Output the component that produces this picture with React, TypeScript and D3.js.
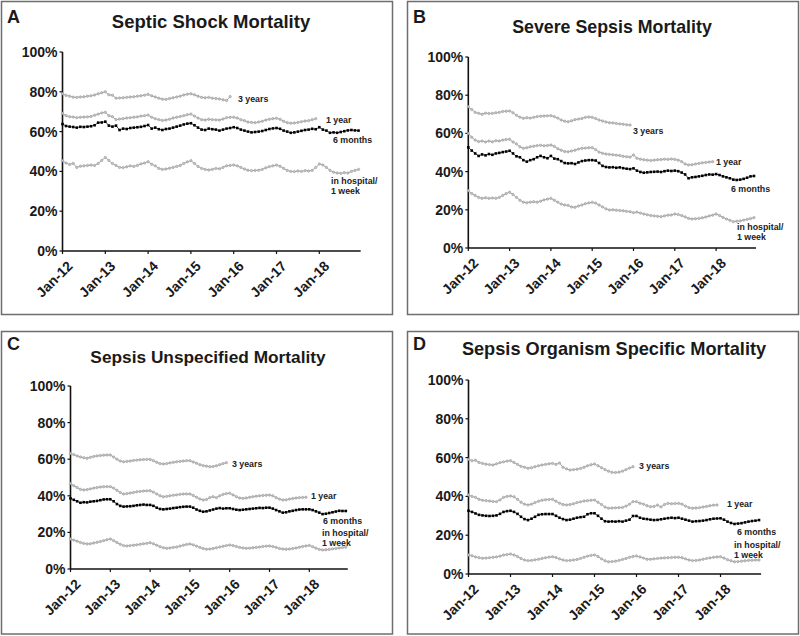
import React from "react";
import * as d3 from "d3";

// ---------- DATA (monthly, Jan-12 onward, % mortality) ----------
const xTickLabels = ["Jan-12", "Jan-13", "Jan-14", "Jan-15", "Jan-16", "Jan-17", "Jan-18"];
const yTickValues = [0, 20, 40, 60, 80, 100];
const seriesNames = ["3 years", "1 year", "6 months", "in hospital/\n1 week"];

// A: Septic Shock
const shock3y = [
  79.0, 78.2, 77.8, 77.3, 77.2, 77.4, 77.5, 77.8, 78.0, 78.4, 79.0, 79.5,
  80.0, 78.5, 78.3, 76.8, 76.9, 77.0, 77.2, 77.4, 77.5, 77.8, 78.0, 78.3,
  78.7, 78.0, 77.4, 76.8, 76.3, 76.2, 76.6, 77.0, 77.4, 77.8, 78.4, 78.8,
  79.0, 78.5, 77.8, 77.2, 77.0, 77.2, 76.8, 76.6, 76.4, 76.0, 75.6, 77.6,
];
const shock1y = [
  69.2, 68.0, 67.5, 67.3, 67.0, 67.2, 67.3, 67.4, 67.6, 68.2, 68.8, 69.4,
  69.7, 68.0, 67.5, 66.0, 66.3, 66.5, 66.8, 67.0, 67.2, 67.4, 67.8, 68.0,
  68.3, 67.2, 66.5, 66.0, 65.6, 65.8, 66.2, 66.8, 67.2, 67.6, 68.0, 68.5,
  68.8, 67.8, 66.8, 66.0, 65.8, 66.2, 66.0, 65.9, 65.8, 66.3, 67.0, 67.2,
  67.2, 66.8, 66.0, 65.5, 64.8, 64.6, 64.5, 64.8, 65.2, 65.8, 66.2, 66.5,
  66.7, 66.2, 65.2, 64.5, 64.2, 64.3, 64.6, 65.0, 65.3, 65.5, 66.0, 66.5,
];
const shock6m = [
  63.8, 62.8, 62.5, 62.3, 62.0, 62.4, 62.3, 62.5, 62.7, 63.2, 64.5, 64.6,
  65.0, 63.0, 62.5, 63.0, 60.8, 61.5, 61.3, 61.8, 62.0, 62.2, 62.4, 62.8,
  63.3, 61.5, 62.0, 61.2, 60.8, 61.3, 61.5, 62.0, 62.5, 63.0, 63.6, 64.0,
  64.2, 63.2, 62.0, 61.0, 60.8, 61.5, 61.2, 61.0, 60.5, 61.0, 61.5, 61.8,
  62.2, 61.8, 61.0, 60.5, 60.0, 59.6, 59.8, 60.0, 60.3, 60.8, 61.3, 61.6,
  61.8, 61.4, 60.5, 60.0, 59.4, 59.6, 60.0, 60.4, 60.8, 61.0, 61.4, 61.2,
  62.2, 61.0, 60.5, 59.4, 59.6, 59.4, 59.8, 60.2, 60.6, 60.8, 60.6, 60.5,
];
const shockHosp = [
  45.4, 44.2, 43.5, 44.0, 42.0, 42.6, 42.8, 43.0, 43.2, 43.0, 44.0, 45.5,
  47.0, 45.5, 44.0, 43.0, 42.0, 41.9, 42.3, 42.8, 42.5, 43.0, 43.8, 44.2,
  44.9, 43.6, 42.8, 41.5, 41.0, 41.2, 41.6, 42.0, 42.5, 43.0, 44.0, 44.8,
  45.4, 44.0, 42.5, 41.5, 41.0, 40.7, 41.0, 41.5, 41.3, 42.0, 42.8, 43.0,
  43.2, 42.8, 42.0, 41.2, 40.6, 40.4, 40.5, 40.6, 41.0, 41.8, 42.4, 42.8,
  43.2, 42.6, 41.5, 40.5, 40.0, 39.9, 40.2, 40.0, 40.4, 40.2, 40.5, 42.0,
  43.7, 43.2, 42.0, 40.5, 39.6, 39.2, 39.0, 39.4, 39.2, 40.0, 40.5, 41.0,
];

// B: Severe Sepsis
const severe3y = [
  74.0, 72.5, 71.0, 70.5, 70.0, 70.6, 70.4, 70.5, 70.8, 71.0, 71.5, 71.6,
  71.7, 70.8, 69.5, 68.5, 67.9, 68.2, 68.0, 68.4, 68.8, 69.0, 69.1, 69.2,
  69.3, 68.8, 68.0, 67.0, 66.4, 66.1, 66.6, 67.2, 67.5, 67.8, 68.4, 68.6,
  68.4, 67.8, 67.0, 66.5, 66.0, 65.6, 65.5, 65.2, 65.0, 64.8, 64.5, 64.4,
];
const severe1y = [
  60.0, 58.0, 56.5, 55.7, 56.0, 55.5, 56.0, 55.6, 56.2, 56.0, 56.5, 56.8,
  56.9, 55.5, 54.5, 53.0, 52.2, 52.5, 53.0, 53.3, 53.6, 53.8, 53.5, 53.7,
  53.9, 53.2, 52.0, 51.2, 50.5, 50.4, 50.8, 51.2, 51.8, 52.2, 52.3, 52.5,
  52.5, 51.5, 50.2, 49.6, 49.2, 49.0, 48.8, 48.6, 48.4, 48.0, 47.8, 47.6,
  48.7, 47.0, 46.5, 46.2, 46.0, 45.8, 46.0, 46.2, 46.3, 46.5, 46.4, 46.6,
  46.4, 46.0, 45.2, 44.0, 43.5, 43.6, 44.0, 44.3, 44.6, 44.8, 45.0, 45.2,
];
const severe6m = [
  52.7, 51.0, 49.5, 48.2, 49.0, 48.5, 49.2, 48.8, 49.5, 49.8, 50.2, 50.5,
  50.9, 49.5, 48.0, 47.5, 46.0, 45.2, 46.0, 46.5, 47.5, 48.2, 47.5, 47.0,
  48.2, 46.8, 46.5, 45.5, 44.5, 44.3, 44.4, 44.0, 44.8, 45.5, 45.8, 46.0,
  46.0, 45.8, 44.5, 43.0, 42.4, 42.2, 42.3, 42.0, 42.2, 41.8, 41.5, 41.3,
  41.7, 40.5, 39.8, 39.4, 39.6, 39.8, 39.9, 40.0, 39.8, 40.2, 40.5, 40.3,
  40.5, 40.2, 39.5, 38.5, 36.5, 37.0, 37.2, 37.5, 37.8, 38.2, 38.5, 38.4,
  38.7, 38.2, 37.5, 37.0, 36.5, 35.8, 35.6, 35.8, 36.2, 36.8, 37.5, 37.7,
];
const severeHosp = [
  30.0, 28.5, 27.5, 26.5, 26.0, 26.3, 26.0, 26.2, 26.0, 26.5, 27.5, 28.5,
  29.2, 28.0, 26.5, 25.0, 24.0, 23.7, 24.0, 24.2, 24.0, 24.5, 25.2, 25.6,
  26.0, 25.0, 24.0, 23.0, 22.5, 22.3, 21.5, 21.3, 22.0, 22.5, 23.2, 23.6,
  23.9, 23.5, 22.5, 21.5, 20.5, 19.9, 20.0, 19.8, 19.6, 19.5, 19.2, 19.0,
  18.5, 18.8, 18.3, 17.8, 17.4, 17.0, 16.8, 16.6, 16.4, 16.8, 17.2, 17.3,
  17.8, 17.5, 17.0, 16.3, 15.5, 15.2, 15.3, 15.5, 15.8, 16.2, 16.8, 17.2,
  17.8, 17.0, 16.0, 15.2, 14.5, 13.8, 14.0, 14.2, 14.6, 15.0, 15.4, 15.9,
];

// C: Sepsis Unspecified
const unspec3y = [
  63.2, 62.5, 61.8, 61.2, 60.8, 60.5, 61.0, 61.5, 61.8, 62.0, 62.2, 62.3,
  62.3, 61.2, 60.0, 59.0, 58.6, 58.8, 59.0, 59.3, 59.5, 59.7, 59.8, 59.9,
  59.9, 59.2, 58.3, 57.6, 57.4, 57.6, 58.0, 58.3, 58.6, 58.8, 59.0, 59.2,
  59.2, 58.5, 57.8, 57.0, 56.5, 56.2, 55.9, 56.0, 56.4, 57.0, 57.6, 58.1,
];
const unspec1y = [
  46.8, 45.5, 44.5, 43.5, 43.2, 43.4, 43.8, 44.2, 44.5, 44.8, 45.0, 45.0,
  45.0, 44.2, 43.0, 41.8, 41.0, 41.2, 41.5, 41.8, 42.2, 42.4, 42.6, 42.7,
  42.8, 42.0, 41.0, 40.0, 39.5, 39.7, 40.0, 40.3, 40.5, 40.8, 41.0, 41.0,
  41.0, 40.2, 39.2, 38.3, 37.7, 38.0, 39.0, 39.5, 39.0, 40.0, 40.8, 41.2,
  41.4, 40.5, 39.5, 38.8, 38.6, 38.8, 39.2, 39.5, 39.8, 40.0, 40.2, 40.3,
  40.4, 40.0, 39.0, 38.2, 37.7, 37.8, 38.2, 38.5, 38.8, 39.0, 39.1, 39.2,
];
const unspec6m = [
  38.6, 37.8, 37.0, 36.2, 36.5, 36.4, 36.8, 37.0, 37.2, 37.6, 38.0, 38.1,
  38.1, 37.0, 35.5, 34.5, 34.1, 34.2, 34.3, 34.5, 34.8, 35.0, 35.2, 35.0,
  35.0, 34.5, 33.5, 32.8, 32.6, 32.8, 33.0, 33.3, 33.5, 33.8, 34.0, 34.1,
  34.1, 33.5, 32.5, 31.8, 31.3, 31.5, 32.0, 32.5, 33.0, 33.3, 33.0, 33.2,
  33.2, 32.8, 32.4, 32.2, 32.4, 32.6, 32.8, 33.0, 33.2, 33.4, 33.3, 33.5,
  33.5, 33.0, 32.2, 31.5, 30.8, 31.0, 31.5, 31.8, 32.2, 32.5, 32.6, 32.6,
  32.6, 32.2, 31.5, 30.8, 30.0, 30.2, 30.6, 31.0, 31.4, 31.8, 31.7, 31.7,
];
const unspecHosp = [
  16.4, 15.8, 15.2, 14.5, 14.0, 13.7, 13.8, 14.2, 14.6, 15.0, 15.5, 16.0,
  16.4, 15.5, 14.5, 13.5, 12.8, 12.6, 12.8, 13.0, 13.2, 13.5, 13.8, 14.0,
  14.4, 13.8, 13.0, 12.2, 11.6, 11.3, 11.5, 11.8, 12.0, 12.5, 13.0, 13.4,
  13.7, 13.2, 12.5, 11.8, 11.2, 10.8, 10.9, 11.2, 11.6, 12.0, 12.4, 12.8,
  13.1, 12.8, 12.3, 11.8, 11.5, 11.3, 11.4, 11.6, 11.8, 12.0, 12.3, 12.5,
  12.6, 12.3, 11.8, 11.2, 10.9, 10.8, 10.9, 11.2, 11.5, 11.9, 12.3, 12.6,
  12.9, 12.2, 11.4, 10.7, 10.4, 10.5, 10.7, 11.0, 11.2, 11.5, 11.7, 11.9,
];

// D: Sepsis Organism Specific
const organism3y = [
  59.1, 58.4, 58.6, 57.5, 57.0, 56.6, 56.4, 56.2, 56.8, 57.4, 57.8, 58.2,
  58.4, 57.5, 56.5, 55.5, 55.0, 54.5, 54.8, 55.3, 55.8, 56.2, 56.5, 56.8,
  57.0, 56.5, 57.2, 55.0, 54.2, 53.6, 53.8, 54.0, 54.4, 55.0, 55.8, 56.3,
  56.7, 55.8, 54.8, 53.8, 53.0, 52.4, 52.3, 52.5, 53.0, 53.8, 54.6, 55.3,
];
const organism1y = [
  40.7, 40.0, 39.5, 38.5, 38.0, 37.8, 37.6, 37.4, 37.3, 38.2, 39.5, 40.0,
  40.2, 39.8, 38.5, 37.0, 36.0, 35.6, 36.0, 36.8, 37.5, 38.0, 38.3, 38.4,
  38.5, 37.5, 36.5, 35.8, 35.6, 35.8, 36.2, 36.8, 37.2, 37.6, 37.8, 38.0,
  38.1, 37.0, 35.8, 34.5, 33.9, 34.0, 34.1, 34.2, 34.3, 35.0, 36.0, 37.3,
  37.3, 36.5, 36.0, 35.2, 34.7, 34.8, 35.5, 34.6, 35.8, 36.4, 36.2, 36.3,
  36.4, 36.0, 35.0, 34.2, 33.9, 34.0, 34.2, 34.5, 34.8, 35.2, 35.5, 35.6,
];
const organism6m = [
  32.6, 32.0, 31.2, 30.5, 30.2, 30.0, 29.9, 30.0, 30.2, 31.0, 32.0, 32.4,
  32.6, 32.0, 31.0, 29.5, 28.3, 27.8, 28.5, 29.5, 30.5, 30.8, 30.9, 30.9,
  30.9, 30.0, 29.0, 28.3, 27.8, 28.0, 28.5, 29.0, 29.3, 29.5, 30.8, 31.3,
  31.3, 30.0, 28.5, 27.2, 27.0, 27.1, 27.0, 27.2, 27.0, 27.5, 28.0, 29.9,
  29.9, 29.0, 28.5, 28.3, 28.0, 27.8, 27.9, 28.2, 28.5, 28.8, 29.0, 28.8,
  29.0, 28.5, 28.0, 27.5, 27.0, 27.2, 27.3, 27.5, 27.8, 28.2, 28.5, 28.6,
  28.7, 28.0, 27.0, 26.3, 25.8, 26.0, 26.2, 26.6, 27.0, 27.3, 27.5, 27.8,
];
const organismHosp = [
  9.8, 9.4, 8.8, 8.4, 8.1, 8.2, 8.4, 8.6, 8.8, 9.2, 9.8, 10.0,
  10.3, 9.8, 9.0, 8.0, 7.2, 6.9, 7.0, 7.3, 7.6, 8.0, 8.4, 8.7,
  8.9, 8.5, 7.8, 7.2, 6.9, 7.0, 7.2, 7.5, 8.0, 8.6, 9.2, 9.6,
  9.8, 9.0, 7.8, 6.8, 6.3, 6.4, 6.6, 7.0, 7.5, 8.0, 8.6, 9.0,
  9.3, 8.8, 8.2, 7.6, 7.6, 7.8, 8.0, 8.2, 8.3, 8.4, 8.5, 8.6,
  8.6, 8.4, 7.8, 7.2, 6.9, 7.0, 7.2, 7.6, 8.0, 8.3, 8.6, 8.8,
  8.9, 8.2, 7.4, 6.8, 6.3, 6.4, 6.6, 6.8, 7.0, 7.1, 7.2, 7.2,
];

// ---------- LAYOUT ----------
type Lbl = { x: number; y: number };
type PanelCfg = {
  letter: string;
  title: string;
  titleSize: number;
  box: [number, number, number, number];
  axisX: number;
  yearW: number;
  y0: number;
  y100: number;
  titleX: number;
  titleY: number;
  letterX: number;
  letterY: number;
  data: number[][]; // 3y, 1y, 6m, hosp
  labels: Lbl[]; // 3y, 1y, 6m, hosp line1, hosp line2
};

const panels: PanelCfg[] = [
  {
    letter: "A", title: "Septic Shock Mortality", titleSize: 18.5,
    box: [1.5, 1.5, 392.5, 314.5], axisX: 62.5, yearW: 42.8, y0: 251, y100: 52,
    titleX: 211, titleY: 28, letterX: 7, letterY: 23,
    data: [shock3y, shock1y, shock6m, shockHosp],
    labels: [{ x: 238, y: 102 }, { x: 326, y: 122.5 }, { x: 333, y: 142.5 }, { x: 331, y: 183.5 }, { x: 331, y: 194 }],
  },
  {
    letter: "B", title: "Severe Sepsis Mortality", titleSize: 17.8,
    box: [407.5, 1.5, 798.5, 314.5], axisX: 468.3, yearW: 41.3, y0: 248, y100: 57,
    titleX: 612, titleY: 33, letterX: 413, letterY: 23,
    data: [severe3y, severe1y, severe6m, severeHosp],
    labels: [{ x: 633, y: 134 }, { x: 716, y: 165 }, { x: 731, y: 191.5 }, { x: 737, y: 229.5 }, { x: 737, y: 240 }],
  },
  {
    letter: "C", title: "Sepsis Unspecified Mortality", titleSize: 17.3,
    box: [1.5, 331.5, 392.5, 634], axisX: 70.5, yearW: 39.8, y0: 569, y100: 386,
    titleX: 208, titleY: 363, letterX: 7, letterY: 350,
    data: [unspec3y, unspec1y, unspec6m, unspecHosp],
    labels: [{ x: 232, y: 467 }, { x: 311, y: 499 }, { x: 323, y: 524 }, { x: 322, y: 536 }, { x: 322, y: 546 }],
  },
  {
    letter: "D", title: "Sepsis Organism Specific Mortality", titleSize: 18.2,
    box: [407.5, 331.5, 798.5, 634], axisX: 468.5, yearW: 42, y0: 574, y100: 380,
    titleX: 614, titleY: 355, letterX: 413, letterY: 350,
    data: [organism3y, organism1y, organism6m, organismHosp],
    labels: [{ x: 639, y: 469 }, { x: 727, y: 506.5 }, { x: 737, y: 535 }, { x: 734, y: 547.5 }, { x: 734, y: 557.5 }],
  },
];

const FONT = "'Liberation Sans', Arial, Helvetica, sans-serif";
const GRAY_LINE = "#9c9c9c";
const GRAY_FILL = "#c4c4c4";

function Panel({ p }: { p: PanelCfg }) {
  const x = d3.scaleLinear().domain([0, 84]).range([p.axisX, p.axisX + 7 * p.yearW]);
  const y = d3.scaleLinear().domain([0, 100]).range([p.y0, p.y100]);
  const line = d3
    .line<number>()
    .x((_, i) => x(i))
    .y((d) => y(d));
  const xEnd = x(83.6);
  const labelTexts = [seriesNames[0], seriesNames[1], seriesNames[2], ...seriesNames[3].split("\n")];
  const [bx0, by0, bx1, by1] = p.box;

  return (
    <g>
      <rect x={bx0} y={by0} width={bx1 - bx0} height={by1 - by0} fill="white" stroke="#6e6e6e" strokeWidth={1.5} />
      <text x={p.letterX} y={p.letterY} fontFamily={FONT} fontWeight="bold" fontSize={18} fill="#1a1a1a">
        {p.letter}
      </text>
      <text x={p.titleX} y={p.titleY} textAnchor="middle" fontFamily={FONT} fontWeight="bold" fontSize={p.titleSize} fill="#1a1a1a">
        {p.title}
      </text>

      {/* y axis */}
      <line x1={p.axisX} x2={p.axisX} y1={y(100)} y2={y(0)} stroke="#111" strokeWidth={1.6} />
      {yTickValues.map((t) => (
        <g key={t}>
          <line x1={p.axisX - 3} x2={p.axisX} y1={y(t)} y2={y(t)} stroke="#111" strokeWidth={1.2} />
          <text x={p.axisX - 5} y={y(t)} dy="0.36em" textAnchor="end" fontFamily={FONT} fontWeight="bold" fontSize={14} fill="#1a1a1a">
            {t}%
          </text>
        </g>
      ))}

      {/* x axis */}
      <line x1={p.axisX} x2={xEnd} y1={y(0)} y2={y(0)} stroke="#111" strokeWidth={1.6} />
      {xTickLabels.map((lab, i) => {
        const tx = x(i * 12);
        return (
          <g key={lab}>
            <line x1={tx} x2={tx} y1={y(0)} y2={y(0) + 3} stroke="#111" strokeWidth={1.2} />
            <text
              transform={`translate(${tx + 4},${y(0) + 9}) rotate(-45)`}
              textAnchor="end"
              dy="0.7em"
              fontFamily={FONT}
              fontWeight="bold"
              fontSize={14}
              fill="#1a1a1a"
            >
              {lab}
            </text>
          </g>
        );
      })}

      {/* series */}
      {p.data.map((vals, si) => {
        const black = si === 2;
        return (
          <g key={si}>
            <path d={line(vals) || ""} fill="none" stroke={black ? "#111" : GRAY_LINE} strokeWidth={black ? 0.8 : 0.9} />
            {vals.map((v, i) =>
              black ? (
                <rect key={i} x={x(i) - 1.3} y={y(v) - 1.3} width={2.6} height={2.6} fill="#000" />
              ) : (
                <circle key={i} cx={x(i)} cy={y(v)} r={1.2} fill={GRAY_FILL} stroke={GRAY_LINE} strokeWidth={0.6} />
              )
            )}
          </g>
        );
      })}

      {/* series labels */}
      {p.labels.map((l, i) => (
        <text key={i} x={l.x} y={l.y} fontFamily={FONT} fontWeight="bold" fontSize={8.8} fill="#222">
          {labelTexts[i]}
        </text>
      ))}
    </g>
  );
}

export default function App() {
  return (
    <div style={{ position: "absolute", left: 0, top: 0 }}>
      <svg width={800} height={636} style={{ display: "block", background: "white" }}>
        <rect x={0} y={0} width={800} height={636} fill="white" />
        {panels.map((p) => (
          <Panel key={p.letter} p={p} />
        ))}
      </svg>
    </div>
  );
}
